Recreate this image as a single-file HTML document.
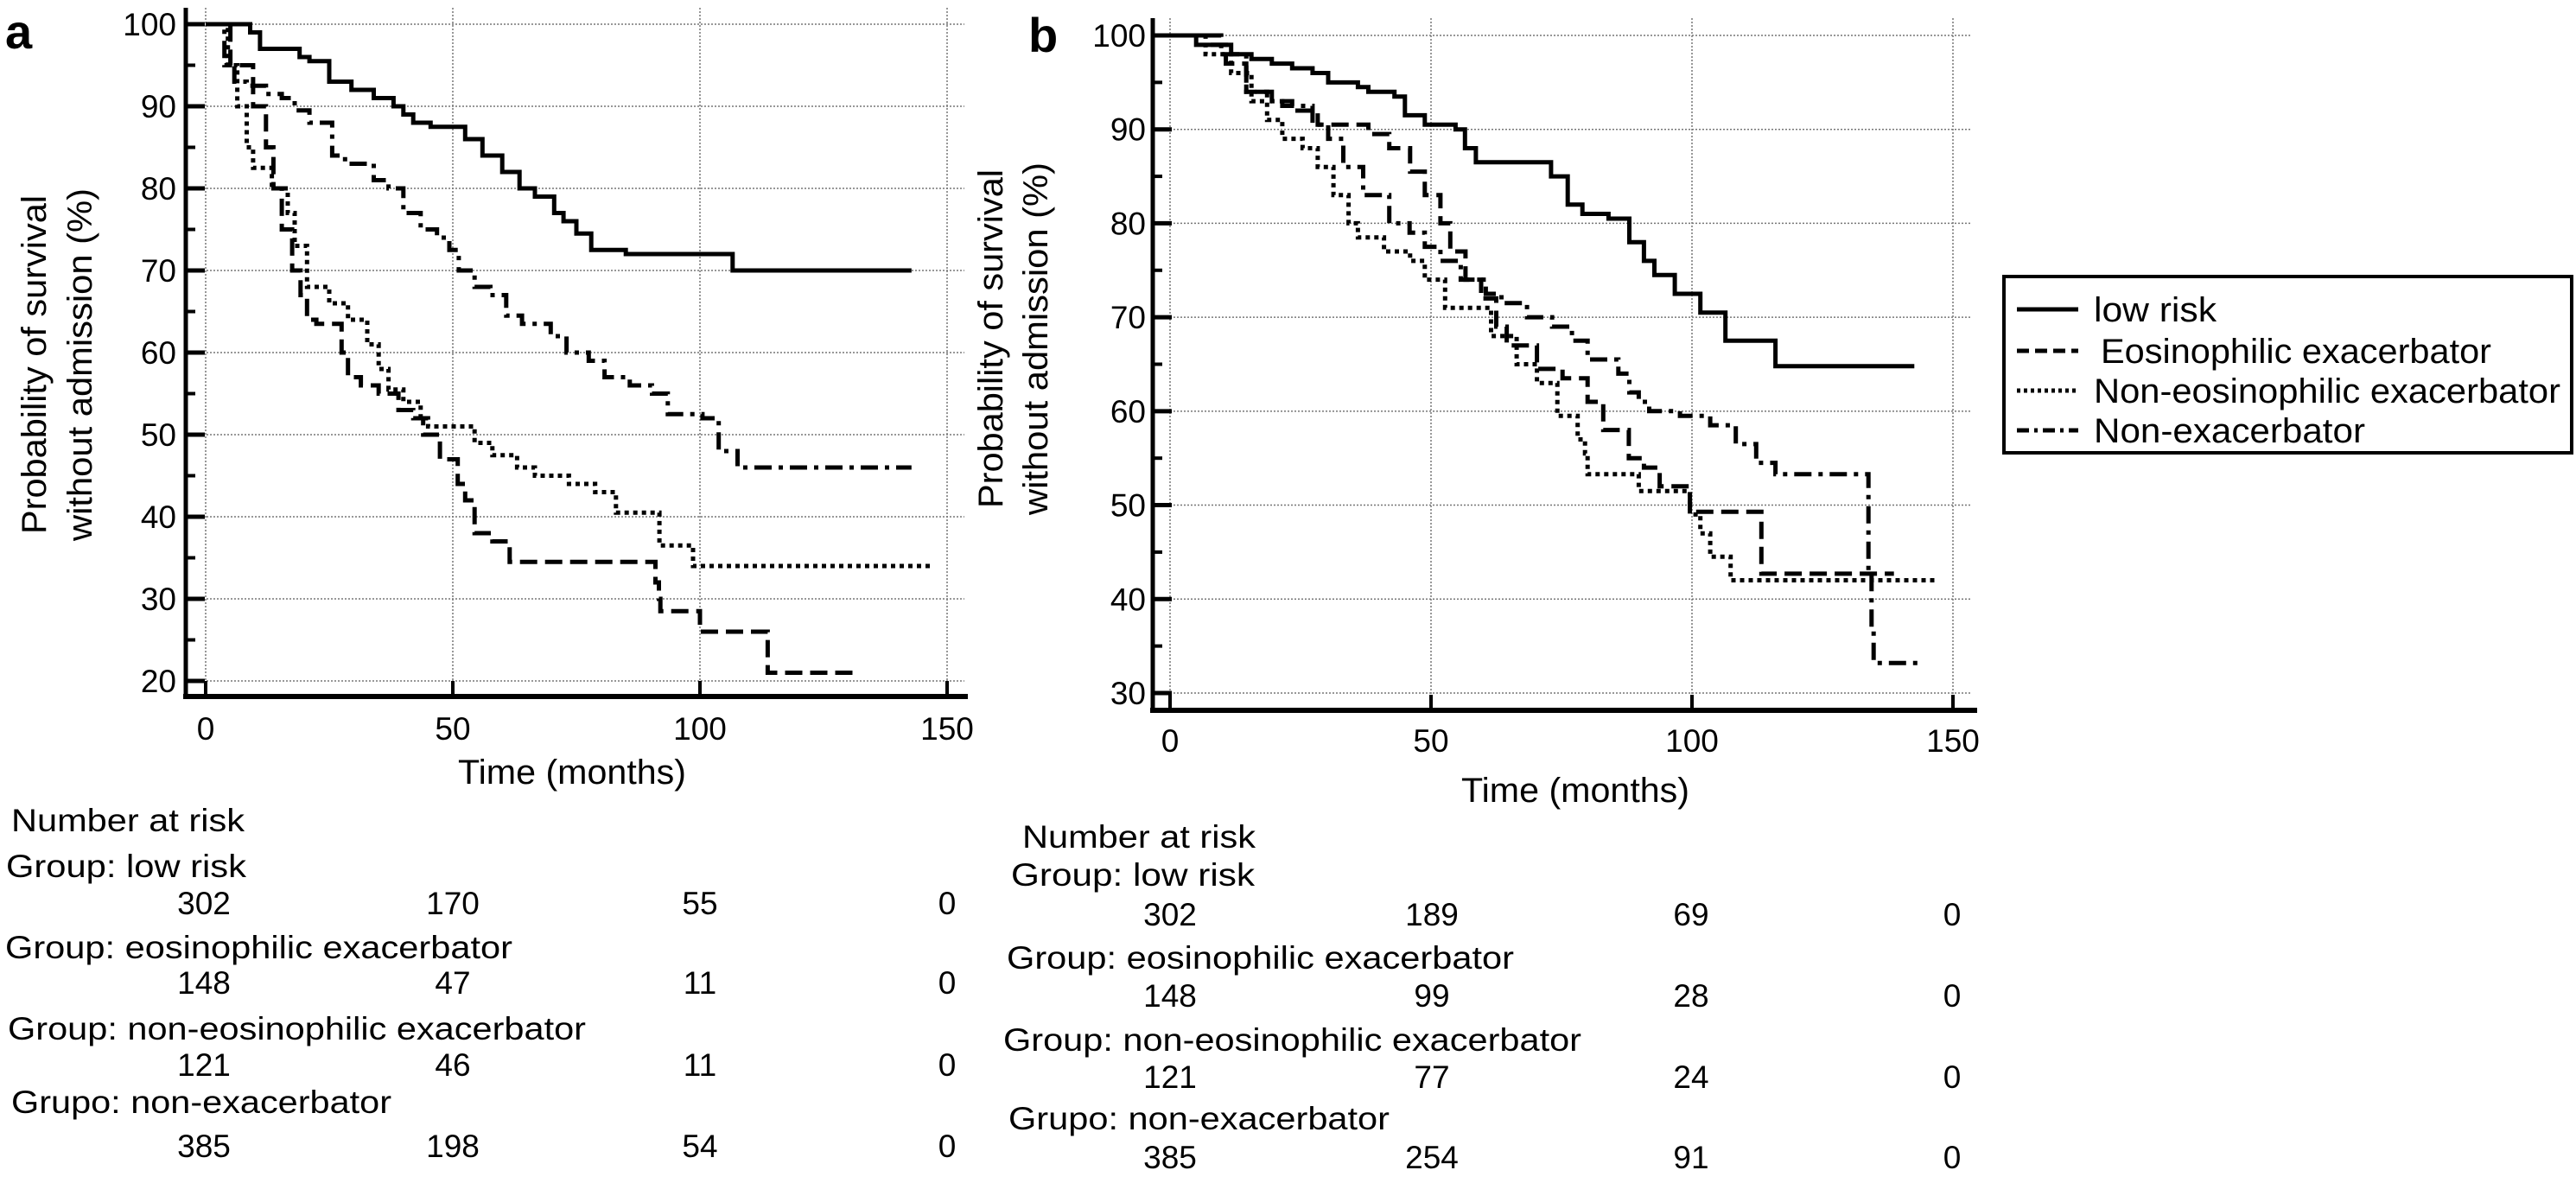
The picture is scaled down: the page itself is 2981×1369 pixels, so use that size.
<!DOCTYPE html>
<html><head><meta charset="utf-8"><style>
html,body{margin:0;padding:0;background:#fff;}
svg{display:block;font-family:"Liberation Sans",sans-serif;}
</style></head><body>
<svg id="fig" width="2981" height="1369" viewBox="0 0 2981 1369" xmlns="http://www.w3.org/2000/svg">
<rect x="0" y="0" width="2981" height="1369" fill="#fff"/>
</svg>
<script>
// ---- data: panel a ----
const aLowT=[0,7,9,11,18.3,19,21,25,29.5,34,38,40,42,45.5,52.5,56,60,63.5,66.6,70.5,72.4,75,78,85,106.6,142.8];
const aLowV=[100,100,99,97,97,96,95.5,93,92,91,90,89,88,87.5,86,84,82,80,79,77,76,74.5,72.5,72,70,70];
const aEosT=[0,5,9.6,12.2,13.7,15.4,17.5,19.2,20.5,22.4,27.5,28.8,31.4,35,39,42,44,47.4,51,52.5,54.4,58,61.5,91,91.7,92,94,100,113.7,131.5];
const aEosV=[100,95,90,85,80,75,70,67,64,63.5,60,57,56,55,53,52,50,47,44,42,38,37,34.5,32,30,28.5,28.5,26,21,21];
const aNonEosT=[0,4.5,6.4,8.3,9.6,13.4,16.6,18,20.5,25,28.8,32.7,35,37,40,43.5,45,54.4,58,63,66.6,73.5,78.8,83,91.8,98.6,146.7];
const aNonEosV=[100,95,90,85,82.5,80,77,73,68,66,64,61,58,55.5,54,52,51,49,47.5,46,45,44,43,40.5,36.5,34,34];
const aNonExT=[0,3.8,5.8,8.3,12.2,15.4,18,21,25.6,28.2,34,37,40,43.5,46.8,49.3,51.2,54.4,57.6,60.8,64,69.8,73,77.5,80.7,85.8,90.3,93.5,100.5,103.8,107.6,142.8];
const aNonExV=[100,95,93,92.5,91.5,91,89.5,88,84,83,81,80,77,75,74,72.5,70,68,67,64.5,63.5,62,60,59,57,56,55,52.5,52,48,46,46];
// ---- data: panel b ----
const bLowT=[0,5,11.7,15.6,19.5,23.4,27.3,30.3,36,38,43,45,48.8,54.7,56.5,58.6,73,76.2,79,84,88,90.8,92.8,96.7,101.6,106.4,116,142.6];
const bLowV=[100,99,98,97.5,97,96.5,96,95,94.5,94,93.5,91.5,90.5,90,88,86.5,85,82,81,80.5,78,76,74.5,72.5,70.5,67.5,64.8,64.8];
const bEosT=[0,7.8,10.7,14.6,19.5,23.4,28.3,38,42,46,48.8,51.8,53.7,56.6,59.6,62.5,64.5,70.3,75.2,80,83,87.9,90.8,93.8,99.6,113.3,138.7];
const bEosV=[100,99,97,94,93,92,90.5,89.5,88,85.5,83,80,77,74,72,69,67,64.5,63.5,61,58,55,54,52,49.3,42.7,42.7];
const bNonEosT=[0,6.8,11.7,15.6,18.6,21.5,25.4,28.3,31.3,34.2,36,41,46,48.8,52.7,61.5,66.4,70.3,74.2,78.1,79.5,80,89.8,99.6,101.6,103.5,107.4,146.5];
const bNonEosV=[100,98,96,93,91,89,88,86,83,80,78.5,77,76,74,71,68,65,63,59.5,57,55.5,53.3,51.5,49,47,44.5,42,42];
const bNonExT=[0,9.8,14.6,18.6,21.5,27.3,30.3,33.2,37,42,45.9,48.8,51.8,55.7,60.5,63.5,68.4,73.2,77,80,85.9,88,89.8,91.8,97.7,103.5,108.4,112.3,116,133.8,134.4,134.8,135.7,144];
const bNonExV=[100,98,94,93,92.5,90.5,89,86,83,80,79,77.5,76,74,72.5,71.5,70,69,67.5,65.5,64,62,61,60,59.5,58.5,56.5,54.5,53.3,42.5,37,33.2,33.2,33.2];
// ---- number at risk ----
const riskGroups=["Group: low risk","Group: eosinophilic exacerbator","Group: non-eosinophilic exacerbator","Grupo: non-exacerbator"];
const riskA=[[302,170,55,0],[148,47,11,0],[121,46,11,0],[385,198,54,0]];
const riskB=[[302,189,69,0],[148,99,28,0],[121,77,24,0],[385,254,91,0]];
const xTicks=[0,50,100,150];
const yTicksA=[20,30,40,50,60,70,80,90,100];
const yTicksB=[30,40,50,60,70,80,90,100];
const legendLabels=["low risk","Eosinophilic exacerbator","Non-eosinophilic exacerbator","Non-exacerbator"];

const NS="http://www.w3.org/2000/svg";
const svg=document.getElementById('fig');
function mk(tag,attrs,parent){const e=document.createElementNS(NS,tag);for(const k in attrs)e.setAttribute(k,attrs[k]);(parent||svg).appendChild(e);return e;}
function txt(s,attrs,parent){const e=mk('text',attrs,parent);e.textContent=s;return e;}

const styles=[
 {w:5,da:"none"},
 {w:5,da:"20 9"},
 {w:5,da:"5 5"},
 {w:5,da:"20 8 5 8"}
];

function panel(P){
  const g=mk('g',{});
  
  
  const xs=t=>P.x0+t*P.xu, ys=v=>P.y100+(100-v)*P.yu;
  const grid=mk('g',{stroke:'#777','stroke-width':1.5,'stroke-dasharray':'2 2'},g);
  
  
  P.yt.forEach(v=>mk('line',{x1:P.ax,x2:P.gridR,y1:ys(v),y2:ys(v)},grid));
  xTicks.forEach(t=>mk('line',{x1:xs(t),x2:xs(t),y1:P.top,y2:P.bot},grid));
  P.series.forEach((s,i)=>{
    let d=`M${xs(s.t[0])},${ys(s.v[0])}`;
    for(let k=1;k<s.t.length;k++){d+=` H${xs(s.t[k]).toFixed(1)} V${ys(s.v[k]).toFixed(1)}`;}
    const p=mk('path',{d:d,fill:'none',stroke:'#000','stroke-width':styles[i].w,'stroke-dasharray':styles[i].da},g);
    
    
  });
  const ax=mk('g',{stroke:'#000'},g);
  
  
  mk('line',{x1:P.ax,x2:P.ax,y1:P.top,y2:P.bot+3,'stroke-width':5},ax);
  mk('line',{x1:P.ax-3,x2:P.axR,y1:P.bot,y2:P.bot,'stroke-width':6},ax);
  for(let v=P.yt[0];v<=100;v+=5){
    const major=v%10===0;
    mk('line',{x1:P.ax,x2:P.ax+(major?22:11),y1:ys(v),y2:ys(v),'stroke-width':major?5:4},ax);
  }
  xTicks.forEach(t=>mk('line',{x1:xs(t),x2:xs(t),y1:P.bot,y2:P.bot-18,'stroke-width':4},ax));
  P.yt.forEach(v=>{const e=txt(String(v),{x:P.ylx,y:ys(v)+13,'font-size':P.fs,'text-anchor':'end'},g);
    });
  xTicks.forEach(t=>{const e=txt(String(t),{x:xs(t),y:P.xly,'font-size':P.fs,'text-anchor':'middle'},g);
    });
  const xt=txt('Time (months)',{x:P.xtx,y:P.xty,'font-size':40,'text-anchor':'middle',textLength:264,lengthAdjust:'spacingAndGlyphs'},g);
  
  const y1=txt('Probability of survival',{x:0,y:0,'font-size':40,'text-anchor':'middle',transform:`translate(${P.yl1x},${P.ylc}) rotate(-90)`,textLength:392,lengthAdjust:'spacingAndGlyphs'},g);
  
  const y2=txt('without admission (%)',{x:0,y:0,'font-size':40,'text-anchor':'middle',transform:`translate(${P.yl2x},${P.ylc}) rotate(-90)`,textLength:408,lengthAdjust:'spacingAndGlyphs'},g);
  
  const pl=txt(P.label,{x:P.plx,y:P.ply,'font-size':56,'font-weight':'bold'},g);
  
  const nr=txt('Number at risk',{x:P.nrx,y:P.nry,'font-size':37,textLength:270,lengthAdjust:'spacingAndGlyphs'},g);
  
  riskGroups.forEach((name,i)=>{
    const e=txt(name,{x:P.gx[i],y:P.gy[i],'font-size':37,textLength:P.gw[i],lengthAdjust:'spacingAndGlyphs'},g);
    
    P.risk[i].forEach((n,j)=>{
      const c=txt(String(n),{x:P.rx[j],y:P.ny[i],'font-size':37,'text-anchor':'middle'},g);
      
    });
  });
}

panel({name:'panel-a',label:'a',plx:6,ply:56,x0:238,xu:5.72,y100:28,yu:9.5,ax:215,axR:1120,gridR:1116,top:9,bot:806,
  yt:yTicksA,ylx:204,xly:856,fs:37,xtx:662,xty:907,yl1x:53,yl2x:106,ylc:422,
  nrx:13,nry:962,gx:[7,6,9,13],gy:[1015,1109,1203,1288],gw:[278,587,669,440],ny:[1058,1150,1245,1339],rx:[236,524,810,1096],risk:riskA,
  series:[{name:'curve-a-low-risk',t:aLowT,v:aLowV},{name:'curve-a-eosinophilic',t:aEosT,v:aEosV},{name:'curve-a-non-eosinophilic',t:aNonEosT,v:aNonEosV},{name:'curve-a-non-exacerbator',t:aNonExT,v:aNonExV}]});
panel({name:'panel-b',label:'b',plx:1190,ply:60,x0:1354,xu:6.04,y100:41,yu:10.871,ax:1334,axR:2288,gridR:2280,top:21,bot:822,
  yt:yTicksB,ylx:1326,xly:870,fs:37,xtx:1823,xty:928,yl1x:1160,yl2x:1212,ylc:392,
  nrx:1183,nry:981,gx:[1170,1165,1161,1167],gy:[1025,1121,1216,1307],gw:[282,587,669,441],ny:[1071,1165,1259,1352],rx:[1354,1657,1957,2259],risk:riskB,
  series:[{name:'curve-b-low-risk',t:bLowT,v:bLowV},{name:'curve-b-eosinophilic',t:bEosT,v:bEosV},{name:'curve-b-non-eosinophilic',t:bNonEosT,v:bNonEosV},{name:'curve-b-non-exacerbator',t:bNonExT,v:bNonExV}]});

const lg=mk('g',{});


mk('rect',{x:2319,y:320,width:657,height:204,fill:'#fff',stroke:'#000','stroke-width':4},lg);
const ly=[358,406,452,498], lx=[2423,2431,2423,2423], lw=[142,452,540,314];
legendLabels.forEach((s,i)=>{
  const l=mk('line',{x1:2334,x2:2405,y1:ly[i],y2:ly[i],stroke:'#000','stroke-width':5,'stroke-dasharray':styles[i].da==='none'?'none':(i===1?'14 7':(i===2?'4 4':'14 6 4 6'))},lg);
  
  
  const t=txt(s,{x:lx[i],y:ly[i]+14,'font-size':40,textLength:lw[i],lengthAdjust:'spacingAndGlyphs'},lg);
  
  
});
</script>
</body></html>
